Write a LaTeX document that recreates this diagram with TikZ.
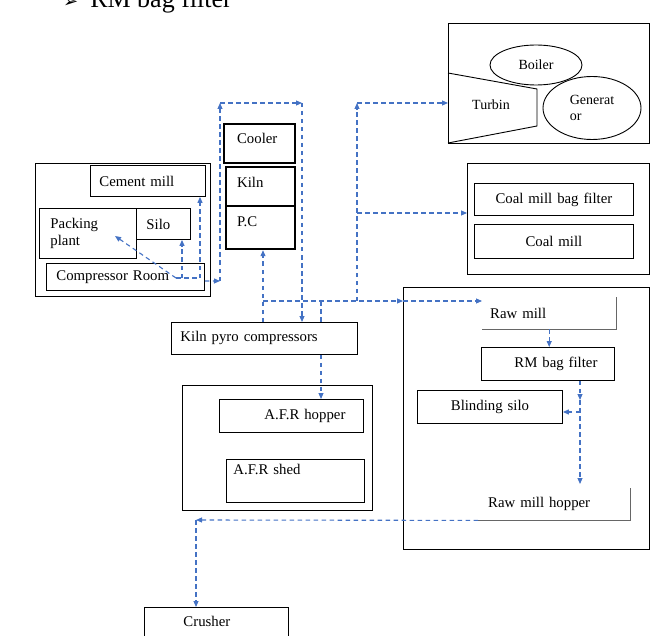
\documentclass[tikz,border=0pt]{standalone}
\usepackage{fontspec}
\setmainfont{Liberation Serif}
\newfontfamily\symfont{DejaVu Sans}
\usetikzlibrary{positioning,shapes.geometric,arrows.meta}
\definecolor{flowblue}{HTML}{4472C4}
\newcommand\boxfont{\fontsize{14.8}{17.5}\selectfont}

\begin{document}
\begin{tikzpicture}[x=1pt, y=-1pt]
    \tikzset{
        group/.style = {rectangle, draw=black, line width=0.9pt, anchor=north west, inner sep=0pt},
        mybox/.style = {rectangle, draw=black, line width=0.9pt, anchor=north west, inner ysep=0pt, align=left, font=\boxfont},
        kilnbox/.style = {mybox, line width=2.2pt},
        openbox/.style = {rectangle, anchor=north west, inner ysep=0pt, align=left, font=\boxfont},
        edge/.style = {draw=black!60, line width=1.4pt},
        flowline/.style = {draw=flowblue, line width=1.1pt, dash pattern=on 4.5pt off 3.5pt},
        flow/.style = {flowline, -{Triangle[length=6pt,width=5pt]}}
    }
    \useasboundingbox (0,0) rectangle (650,636);

    \node (head) [anchor=base west, inner sep=0pt, font=\fontsize{26}{30}\selectfont] at (63,8)
        {{\symfont\fontsize{18}{20}\selectfont ➢}\hspace{12pt}RM bag filter};

    % packing side
    \node (grpleft) [group, minimum width=175, minimum height=133] at (35,163) {};
    \node (cmill) [mybox, text width=97, inner xsep=9, minimum height=31] at (90,165) {Cement mill};
    \node (pack) [mybox, text width=75, inner xsep=11, minimum height=50] at (39,208) {Packing\\plant};
    \node (silo) [mybox, text width=34, inner xsep=10, minimum height=31] at (136,208) {Silo};
    \node (comp) [mybox, text width=138, inner xsep=10, minimum height=27] at (46,263) {Compressor Room};

    % kiln line
    \node (cooler) [kilnbox, text width=45, inner xsep=13, minimum height=39, text height=10, text depth=10] at (223,123) {Cooler};
    \node (kiln) [kilnbox, text width=47, inner xsep=11, minimum height=39, text height=10, text depth=8] at (225,166) {Kiln};
    \node (pc) [kilnbox, text width=47, inner xsep=11, minimum height=43, text height=10, text depth=12] at (225,205) {P.C};
    \node (kpc) [mybox, text width=168, inner xsep=9, minimum height=32] at (171,322) {Kiln pyro compressors};

    % alternative fuel
    \node (afr) [group, minimum width=190, minimum height=125] at (182,385) {};
    \node (afrh) [mybox, text width=108, inner xsep=18, minimum height=33, align=right] at (219,399) {A.F.R hopper};
    \node (afrs) [mybox, text width=124, inner xsep=7, minimum height=43, text height=10, text depth=22] at (226,459) {A.F.R shed};
    \node (crusher) [mybox, text width=66, inner xsep=39, minimum height=53, text height=10, text depth=24] at (144,607) {Crusher};

    % power plant
    \node (power) [group, minimum width=201, minimum height=120] at (448,23) {};
    \draw [line width=0.9pt] (448,73) -- (537,89) -- (537,126) -- (448,143);
    \node (turbin) [font=\fontsize{14}{16}\selectfont] at (491,105) {Turbin};
    \node (boiler) [ellipse, draw, fill=white, line width=0.9pt, minimum width=92, minimum height=40, inner sep=0pt, font=\fontsize{14}{16}\selectfont] at (536,65) {Boiler};
    \node (gen) [ellipse, draw, line width=0.9pt, minimum width=98, minimum height=63, inner sep=0pt, align=left, font=\fontsize{14}{16}\selectfont] at (592,108) {Generat\\or};

    % coal mill
    \node (coal) [group, minimum width=182, minimum height=111] at (467,163) {};
    \node (cbf) [mybox, text width=151, inner xsep=4, minimum height=32, align=center] at (474,183) {Coal mill bag filter};
    \node (cm) [mybox, text width=151, inner xsep=4, minimum height=34, align=center] at (474,224) {Coal mill};

    % raw mill
    \node (raw) [group, minimum width=246, minimum height=262] at (403,287) {};
    \node (rawmill) [openbox, text width=118, inner xsep=8, minimum height=32] at (482,297) {Raw mill};
    \draw [edge] (rawmill.south west) -| (rawmill.north east);
    \node (rmbf) [mybox, text width=99, inner xsep=17, minimum height=33, align=right] at (481,347) {RM bag filter};
    \node (blind) [mybox, text width=137, inner xsep=4, minimum height=33, align=center] at (417,390) {Blinding silo};
    \node (hopper) [openbox, text width=132, inner xsep=10, minimum height=32] at (478,488) {Raw mill hopper};
    \draw [edge] (hopper.south west) -| (hopper.north east);

    % air lines
    \coordinate (c1) at (220,281);
    \coordinate (c2) at (220,103);
    \coordinate (c3) at (302,103);
    \coordinate (j0) at (200,278);
    \coordinate (j1) at (176,278);
    \coordinate (j2) at (182,278);
    \coordinate (packin) at (115,236);
    \coordinate (b1) at (263,301);
    \coordinate (b3) at (321,301);
    \coordinate (b4) at (357,301);
    \coordinate (c5) at (357,103);
    \coordinate (c6) at (357,213);
    \coordinate (d0) at (580,400);
    \coordinate (d1) at (580,412);
    \coordinate (d2) at (580,484);
    \coordinate (e1) at (196,520);

    \draw [flow] ([yshift=-4pt]comp.east) -- (c1);
    \draw [flow] (c1) -- (c2);
    \draw [flow] (c2) -- (c3);
    \draw [flow] (c3) -- (kpc.north -| c3);
    \draw [flowline] (j1) -- (j0);
    \draw [flow] (j0) -- (cmill.south -| j0);
    \draw [flow] (j2) -- (silo.south -| j2);
    \draw [flow] (j1) -- (packin);

    \draw [flow] (kpc.north -| b1) -- (pc.south -| b1);
    \draw [flow] (b1) -- (raw.west |- b1);
    \draw [flow] (raw.west |- b1) -- (rawmill.west |- b1);
    \draw [flowline] (b3) -- (kpc.north -| b3);
    \draw [flow] (kpc.south -| b3) -- (afrh.north -| b3);
    \draw [flow] (b4) -- (c5);
    \draw [flow] (c5) -- (power.west |- c5);
    \draw [flow] (c6) -- (coal.west |- c6);

    \draw [flow] (rawmill.south) -- (rmbf.north -| rawmill.south);
    \draw [flow] (rmbf.south -| d1) -- (d0);
    \draw [flow] (d1) -- (blind.east |- d1);
    \draw [flow] (d0) -- (d2);
    \draw [flow] (hopper.south west) -- (e1);
    \draw [flow] (e1) -- (crusher.north -| e1);
\end{tikzpicture}
\end{document}
